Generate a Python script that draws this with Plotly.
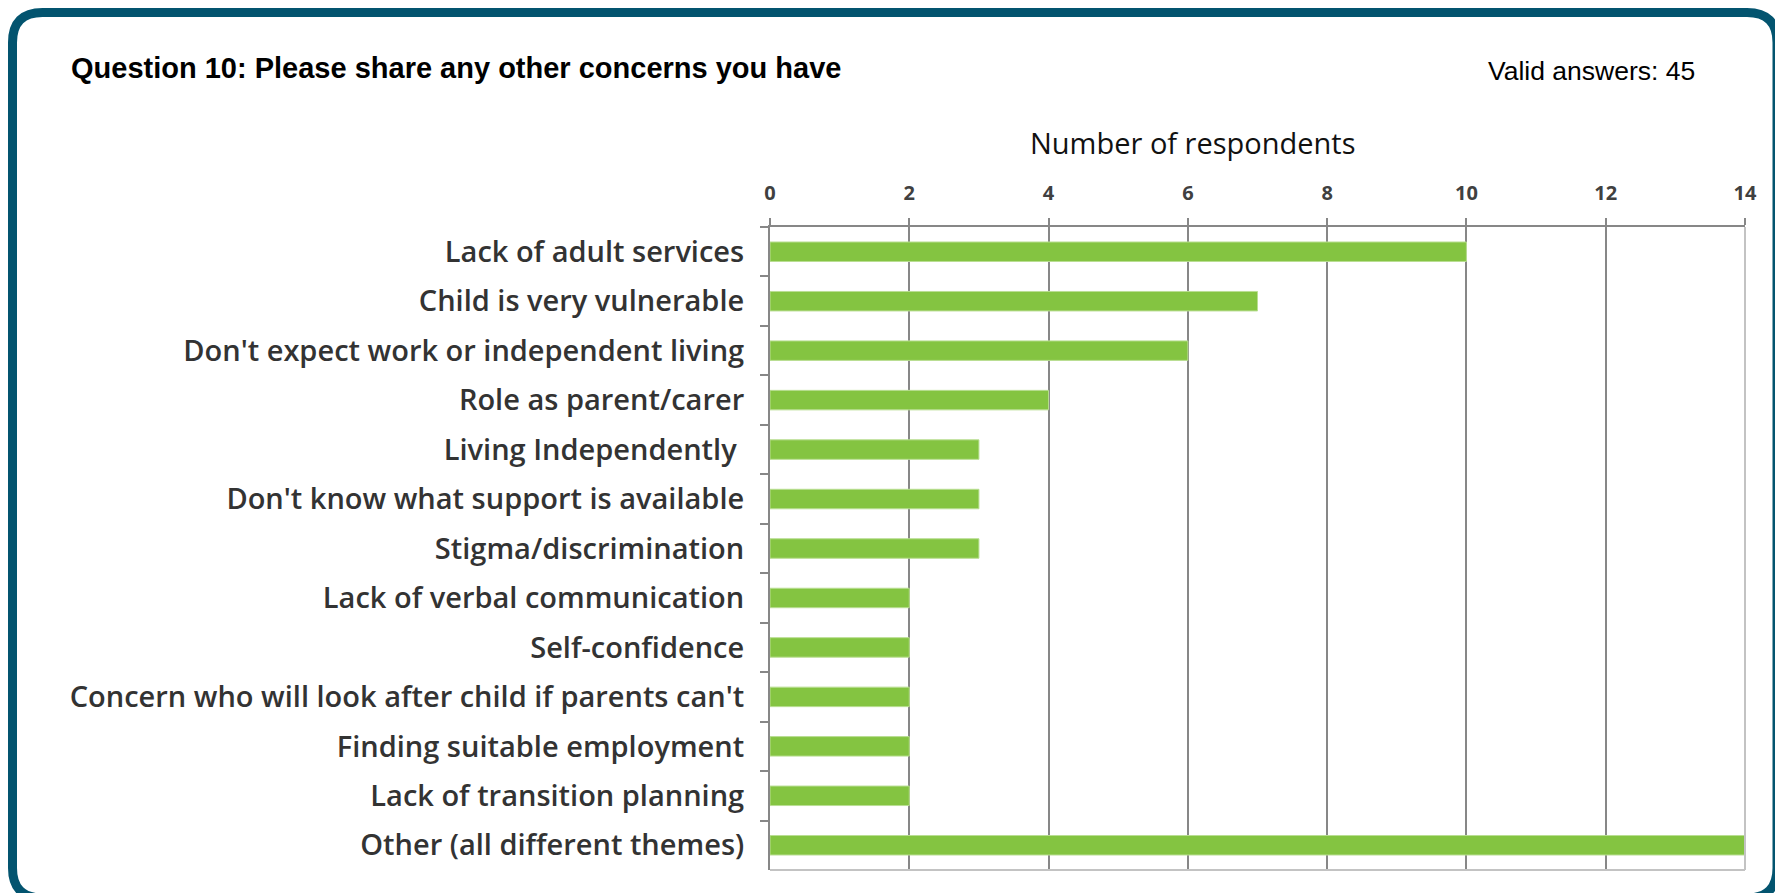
import plotly.graph_objects as go

# Survey results: number of respondents per concern theme
categories = [
    "Lack of adult services",
    "Child is very vulnerable",
    "Don't expect work or independent living",
    "Role as parent/carer",
    "Living Independently\u00a0",
    "Don't know what support is available",
    "Stigma/discrimination",
    "Lack of verbal communication",
    "Self-confidence",
    "Concern who will look after child if parents can't",
    "Finding suitable employment",
    "Lack of transition planning",
    "Other (all different themes)",
]
respondents = [10, 7, 6, 4, 3, 3, 3, 2, 2, 2, 2, 2, 14]
x_ticks = [0, 2, 4, 6, 8, 10, 12, 14]

chart_title = "Question 10: Please share any other concerns you have"
valid_note = "Valid answers: 45"
axis_label = "Number of respondents"

W, H = 1775, 893
ML, MR, MT, MB = 770, 30, 227, 23
PW, PH = W - ML - MR, H - MT - MB

GREEN = "#84C441"
GRID = "#878787"
LIGHT = "#C3C3C3"
FRAME = "#03546F"
LABEL_FONT = "'Open Sans', 'Noto Sans', sans-serif"


def px(xv):
    return (xv - ML) / PW


def py(yv):
    return 1 - (yv - MT) / PH


fig = go.Figure(
    go.Bar(
        x=respondents,
        y=categories,
        orientation="h",
        marker=dict(color=GREEN, line=dict(color="#B9DE92", width=1)),
        hoverinfo="x+y",
    )
)

# rounded outer frame (pixel positions converted to paper units)
fl, ft, fr, fb, rad = 12.5, 12.5, 1777, 898, 30
frame_path = (
    f"M {px(fl + rad)},{py(ft)} L {px(fr - rad)},{py(ft)} "
    f"Q {px(fr)},{py(ft)} {px(fr)},{py(ft + rad)} "
    f"L {px(fr)},{py(fb - rad)} Q {px(fr)},{py(fb)} {px(fr - rad)},{py(fb)} "
    f"L {px(fl + rad)},{py(fb)} Q {px(fl)},{py(fb)} {px(fl)},{py(fb - rad)} "
    f"L {px(fl)},{py(ft + rad)} Q {px(fl)},{py(ft)} {px(fl + rad)},{py(ft)} Z"
)

shapes = [
    dict(type="path", xref="paper", yref="paper", path=frame_path,
         line=dict(color=FRAME, width=9), fillcolor="rgba(0,0,0,0)", layer="above"),
    # light plot-area border on the right and bottom
    dict(type="line", xref="paper", yref="paper", x0=1, x1=1, y0=0, y1=1,
         line=dict(color=LIGHT, width=2), layer="above"),
    dict(type="line", xref="paper", yref="paper", x0=0, x1=1, y0=0, y1=0,
         line=dict(color=LIGHT, width=2), layer="above"),
]

annotations = [
    dict(text=f"<b>{chart_title}</b>", xref="paper", yref="paper",
         x=px(69), y=py(68), xanchor="left", yanchor="middle", showarrow=False,
         font=dict(family="'Liberation Sans', Arial, sans-serif", size=29, color="#000000")),
    dict(text=valid_note, xref="paper", yref="paper",
         x=px(1697), y=py(71), xanchor="right", yanchor="middle", showarrow=False,
         font=dict(family="'Liberation Sans', Arial, sans-serif", size=26.5, color="#000000")),
    dict(text=axis_label, xref="paper", yref="paper",
         x=px(1193), y=py(142), xanchor="center", yanchor="middle", showarrow=False,
         font=dict(family=LABEL_FONT, size=29, color="#111111")),
]

fig.update_layout(
    width=W, height=H,
    margin=dict(l=ML, r=MR, t=MT, b=MB, pad=0),
    paper_bgcolor="white", plot_bgcolor="white",
    bargap=0.606,
    showlegend=False,
    shapes=shapes,
    annotations=annotations,
    xaxis=dict(
        side="top", range=[0, 14], tickvals=x_ticks,
        showgrid=True, gridcolor=GRID, gridwidth=1.5,
        zeroline=False,
        showline=True, linecolor=GRID, linewidth=2,
        ticks="outside", ticklen=7, tickcolor=GRID, tickwidth=1.5,
        tickfont=dict(family=LABEL_FONT, size=20, color="#404040", weight="bold"),
        ticklabelstandoff=10,
        fixedrange=True,
    ),
    yaxis=dict(
        autorange="reversed",
        showline=True, linecolor=GRID, linewidth=2,
        ticks="outside", tickson="boundaries", ticklen=8, tickcolor=GRID, tickwidth=1.5,
        showgrid=False, zeroline=False,
        tickfont=dict(family=LABEL_FONT, size=29, color="#333333", weight=600),
        ticklabelstandoff=18,
        fixedrange=True,
    ),
)

fig.write_html("out.html", config={"displayModeBar": False})
